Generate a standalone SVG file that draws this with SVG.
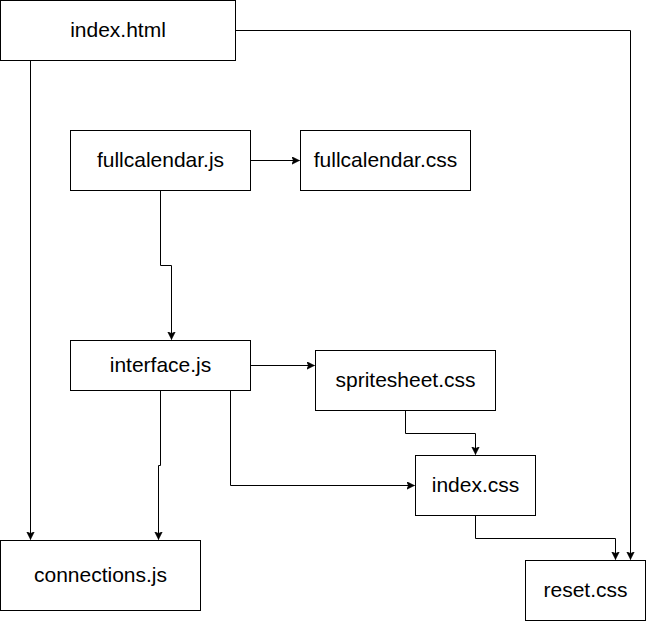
<svg xmlns="http://www.w3.org/2000/svg" width="646" height="621" viewBox="0 0 646 621">
<style>
.box{fill:#fff;stroke:#000;stroke-width:1}
.lbl{font-family:"Liberation Sans",Arial,sans-serif;font-size:21px;fill:#000;text-anchor:middle}
.edge{fill:none;stroke:#000;stroke-width:1;marker-end:url(#arr)}
</style>
<defs>
<marker id="arr" markerUnits="userSpaceOnUse" markerWidth="10" markerHeight="10" refX="8" refY="4" orient="auto">
<path d="M0,0 L8,4 L0,8 L2,4 Z" fill="#000" stroke="#000" stroke-width="0.5"/>
</marker>
</defs>
<rect width="646" height="621" fill="#fff"/>
<g id="connectors">
<path class="edge" d="M235.5,30.5 H630.5 V559.5"/>
<path class="edge" d="M30.5,60.5 V539.5"/>
<path class="edge" d="M250.5,160.5 H299.5"/>
<path class="edge" d="M160.5,190.5 V265.5 H171.5 V339.5"/>
<path class="edge" d="M250.5,365.5 H314.5"/>
<path class="edge" d="M405.5,410.5 V433.5 H475.5 V454.5"/>
<path class="edge" d="M230.5,390.5 V485.5 H414.5"/>
<path class="edge" d="M160.5,390.5 V465.5 H158.5 V539.5"/>
<path class="edge" d="M475.5,515.5 V538.5 H615.5 V559.5"/>
</g>
<g id="index-html"><rect class="box" x="0.5" y="0.5" width="235" height="60"/><text class="lbl" x="118" y="37">index.html</text></g>
<g id="fullcalendar-js"><rect class="box" x="70.5" y="130.5" width="180" height="60"/><text class="lbl" x="160.5" y="167">fullcalendar.js</text></g>
<g id="fullcalendar-css"><rect class="box" x="300.5" y="130.5" width="170" height="60"/><text class="lbl" x="385.5" y="167">fullcalendar.css</text></g>
<g id="interface-js"><rect class="box" x="70.5" y="340.5" width="180" height="50"/><text class="lbl" x="160.5" y="372">interface.js</text></g>
<g id="spritesheet-css"><rect class="box" x="315.5" y="350.5" width="180" height="60"/><text class="lbl" x="405.5" y="387">spritesheet.css</text></g>
<g id="index-css"><rect class="box" x="415.5" y="455.5" width="120" height="60"/><text class="lbl" x="475.5" y="492">index.css</text></g>
<g id="connections-js"><rect class="box" x="0.5" y="540.5" width="200" height="70"/><text class="lbl" x="100.5" y="582">connections.js</text></g>
<g id="reset-css"><rect class="box" x="525.5" y="560.5" width="120" height="60"/><text class="lbl" x="585.5" y="597">reset.css</text></g>
</svg>
